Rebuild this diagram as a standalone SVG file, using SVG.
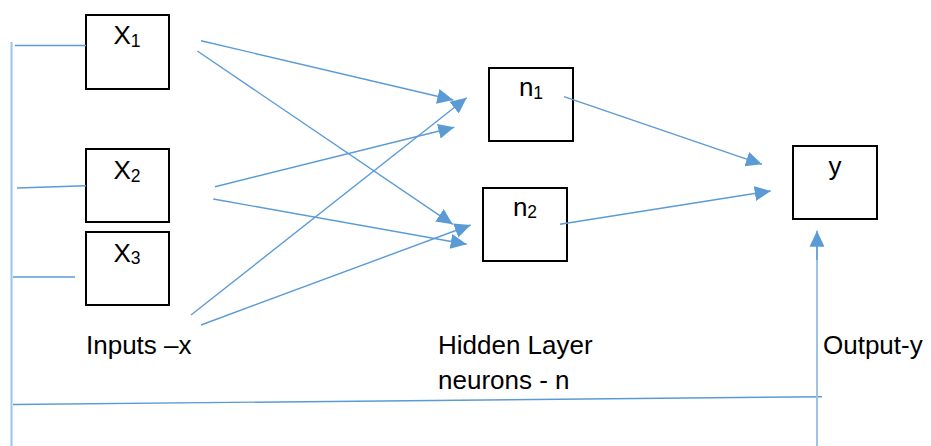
<svg xmlns="http://www.w3.org/2000/svg" width="931" height="446" viewBox="0 0 931 446">
<style>
.box{fill:#fff;stroke:#000;stroke-width:2}
.t{font-family:"Liberation Sans",Arial,sans-serif;font-size:26px;fill:#000}
.sub{font-size:17.5px}
.c{stroke:#5B9BD5;stroke-width:1.4;fill:none}
.v{stroke:#9DC3E6;stroke-width:2;fill:none}
.a{marker-end:url(#ah)}
</style>
<defs>
<marker id="ah" markerUnits="userSpaceOnUse" markerWidth="17" markerHeight="16" refX="16" refY="8" orient="auto">
<path d="M0,0.5 L16,8 L0,15.5 z" fill="#5B9BD5"/>
</marker>
</defs>
<rect width="931" height="446" fill="#fff"/>
<g id="x1">
<rect class="box" x="86" y="15" width="83" height="74"/>
<text class="t" x="127" y="44.3" text-anchor="middle">X<tspan class="sub" dy="2.5">1</tspan></text>
</g>
<g id="x2">
<rect class="box" x="86" y="149" width="83" height="73"/>
<text class="t" x="127" y="179" text-anchor="middle">X<tspan class="sub" dy="2.5">2</tspan></text>
</g>
<g id="x3">
<rect class="box" x="86" y="232" width="83" height="73"/>
<text class="t" x="127" y="261.7" text-anchor="middle">X<tspan class="sub" dy="2.5">3</tspan></text>
</g>
<g id="n1">
<rect class="box" x="489" y="68" width="84" height="73"/>
<text class="t" x="531" y="96" text-anchor="middle">n<tspan class="sub" dy="2.5">1</tspan></text>
</g>
<g id="n2">
<rect class="box" x="483" y="188" width="84" height="73"/>
<text class="t" x="525" y="215.7" text-anchor="middle">n<tspan class="sub" dy="2.5">2</tspan></text>
</g>
<g id="y">
<rect class="box" x="793" y="146" width="84" height="73"/>
<text class="t" x="835" y="175" text-anchor="middle">y</text>
</g>
<g id="connectors">
<line class="v" x1="11.5" y1="42" x2="11.5" y2="446"/>
<line class="c" x1="15" y1="45.5" x2="86" y2="45.5"/>
<line class="c" x1="17" y1="188" x2="86" y2="185.7"/>
<line class="c" x1="13" y1="277" x2="75" y2="277"/>
<line class="c" x1="13" y1="404.5" x2="822" y2="396.7"/>
<line class="v" x1="817" y1="446" x2="817" y2="240"/>
<line class="c a" x1="817" y1="260" x2="817" y2="230.7"/>
<line class="c a" x1="201" y1="40.7" x2="453.3" y2="100"/>
<line class="c a" x1="197.3" y1="51" x2="452.7" y2="224.3"/>
<line class="c a" x1="215" y1="186.7" x2="454.3" y2="127.3"/>
<line class="c a" x1="213.3" y1="199" x2="466.7" y2="244.3"/>
<line class="c a" x1="191" y1="315" x2="466.7" y2="97.7"/>
<line class="c a" x1="201" y1="325" x2="470.7" y2="225"/>
<line class="c a" x1="564" y1="96.7" x2="762" y2="164.3"/>
<line class="c a" x1="560" y1="224.3" x2="770.7" y2="191"/>
</g>
<g id="labels">
<text class="t" x="86" y="354.3">Inputs –x</text>
<text class="t" x="438" y="354.3">Hidden Layer</text>
<text class="t" x="438" y="389">neurons - n</text>
<text class="t" x="823" y="354.3">Output-y</text>
</g>
</svg>
